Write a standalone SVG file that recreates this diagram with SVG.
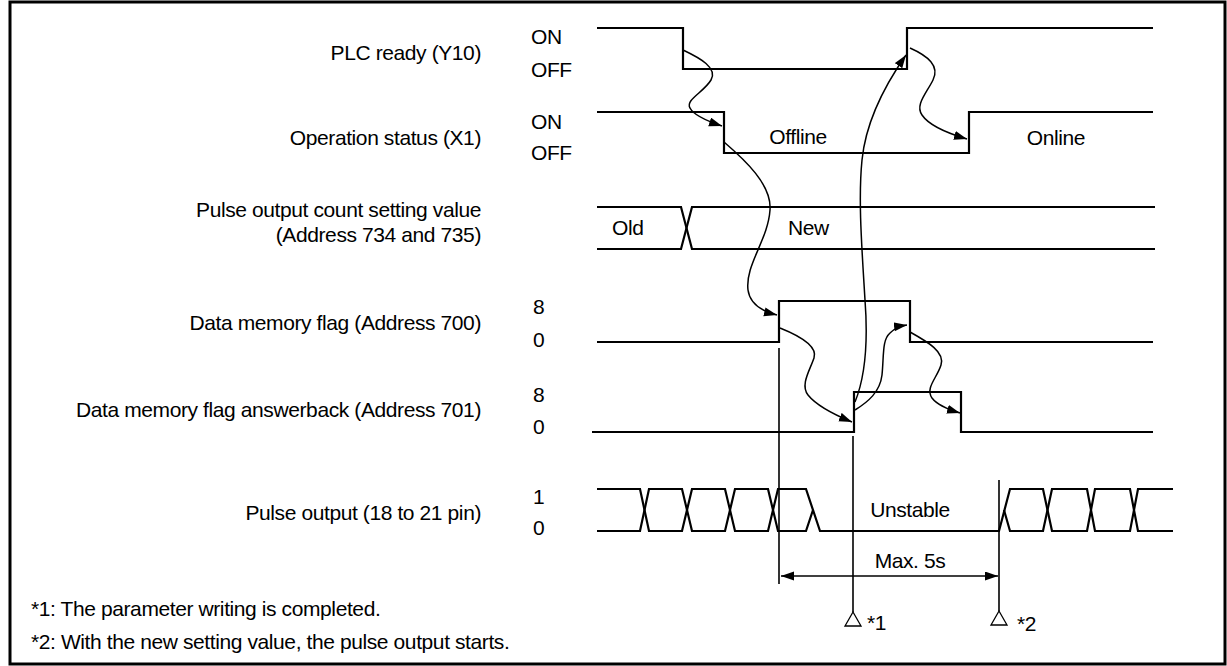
<svg xmlns="http://www.w3.org/2000/svg" width="1227" height="666" viewBox="0 0 1227 666">
<defs>
<marker id="ah" markerUnits="userSpaceOnUse" markerWidth="14" markerHeight="10" refX="13" refY="4.5" orient="auto-start-reverse">
<path d="M0,0 L13,4.5 L0,9 z" fill="#000"/>
</marker>
</defs>
<style>
text{font-family:"Liberation Sans",Arial,sans-serif;font-size:21px;letter-spacing:-0.4px;fill:#000}
.lbl{text-anchor:end}
.mid{text-anchor:middle}
.sig{fill:none;stroke:#000;stroke-width:2.2;stroke-linejoin:miter}
.vl{fill:none;stroke:#000;stroke-width:1.6}
.cn{fill:none;stroke:#000;stroke-width:1.5;marker-end:url(#ah)}
.tri{fill:#fff;stroke:#000;stroke-width:1.3}
</style>
<rect x="10" y="2" width="1215" height="662" fill="#fff" stroke="#000" stroke-width="3"/>

<g id="plc-ready">
<text class="lbl" x="481" y="60">PLC ready (Y10)</text>
<text x="531" y="44">ON</text>
<text x="531" y="77">OFF</text>
<path class="sig" d="M597,28 H683 V69 H907 V28 H1153"/>
</g>

<g id="operation-status">
<text class="lbl" x="481" y="145">Operation status (X1)</text>
<text x="531" y="129">ON</text>
<text x="531" y="160">OFF</text>
<path class="sig" d="M597,112 H724 V153 H969 V112 H1153"/>
<text class="mid" x="798" y="144">Offline</text>
<text class="mid" x="1056" y="145">Online</text>
</g>

<g id="pulse-count-setting">
<text class="lbl" x="481" y="217">Pulse output count setting value</text>
<text class="lbl" x="481" y="242">(Address 734 and 735)</text>
<path class="sig" d="M597,207 H681 L692,249 H1155"/>
<path class="sig" d="M597,249 H681 L692,207 H1155"/>
<text x="612" y="235">Old</text>
<text x="788" y="235">New</text>
</g>

<g id="data-memory-flag">
<text class="lbl" x="481" y="330">Data memory flag (Address 700)</text>
<text x="533" y="314">8</text>
<text x="533" y="347">0</text>
<path class="sig" d="M597,342 H779 V301 H910 V342 H1153"/>
</g>

<g id="data-memory-answerback">
<text class="lbl" x="481" y="417">Data memory flag answerback (Address 701)</text>
<text x="533" y="402">8</text>
<text x="533" y="434">0</text>
<path class="sig" d="M592,432 H854 V392 H961 V432 H1153"/>
</g>

<g id="pulse-output">
<text class="lbl" x="481" y="520">Pulse output (18 to 21 pin)</text>
<text x="533" y="504">1</text>
<text x="533" y="535">0</text>
<path class="sig" d="M597,489 H640 L649,531 H682 L692,489 H725 L735,531 H768 L778,489 H806 L820,531 H999 L1010,489 H1043 L1052,531 H1087 L1095,489 H1130 L1138,531 H1173"/>
<path class="sig" d="M597,531 H640 L649,489 H682 L692,531 H725 L735,489 H768 L778,531 H806 L813,510"/>
<path class="sig" d="M1004,510 L1010,531 H1043 L1052,489 H1087 L1095,531 H1130 L1138,489 H1173"/>
<text class="mid" x="910" y="517">Unstable</text>
</g>

<g id="timing-markers">
<path class="vl" d="M779,348 V584"/>
<path class="vl" d="M853,436 V612"/>
<path class="vl" d="M999,480 V611"/>
<path class="vl" d="M781,576 H998" marker-start="url(#ah)" marker-end="url(#ah)"/>
<text class="mid" x="910" y="568">Max. 5s</text>
<path class="tri" d="M853,612 L861,626 L845,626 z"/>
<text x="867" y="630">*1</text>
<path class="tri" d="M999,611 L1007,625 L991,625 z"/>
<text x="1017" y="631">*2</text>
</g>

<g id="connectors">
<path class="cn" d="M683,50 C700,58 718,68 711,80 C704,92 685,100 690,108 C694,116 710,122 722,126"/>
<path class="cn" d="M724,142 C745,160 772,185 770,210 C768,240 745,265 748,290 C750,305 765,312 777,315"/>
<path class="cn" d="M855,402 C866,375 868,340 865,300 C862,250 858,200 862,160 C866,120 885,85 906,55"/>
<path class="cn" d="M910,48 C928,56 940,66 933,80 C926,94 915,105 922,115 C930,127 950,134 967,139"/>
<path class="cn" d="M780,328 C800,336 818,346 814,358 C810,370 800,385 808,395 C816,405 835,415 852,422"/>
<path class="cn" d="M855,410 C868,402 880,392 882,375 C884,355 882,340 890,333 C895,328 900,326 907,325"/>
<path class="cn" d="M910,332 C928,342 945,352 941,365 C937,378 925,388 932,398 C938,406 950,410 960,413"/>
</g>

<g id="footnotes">
<text x="31" y="616">*1: The parameter writing is completed.</text>
<text x="31" y="649">*2: With the new setting value, the pulse output starts.</text>
</g>
</svg>
